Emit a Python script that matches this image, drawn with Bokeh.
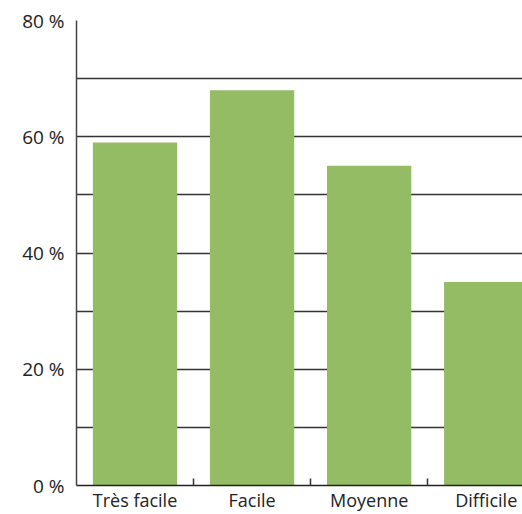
from bokeh.plotting import figure
from bokeh.models import ColumnDataSource, Range1d, FixedTicker
from bokeh.embed import file_html
from bokeh.resources import INLINE

categories = ["Très facile", "Facile", "Moyenne", "Difficile"]
values = [59, 68, 55, 35]
y_ticks = [0, 20, 40, 60, 80]
y_tick_labels = ["0 %", "20 %", "40 %", "60 %", "80 %"]

positions = [i + 0.5 for i in range(len(categories))]
source = ColumnDataSource(dict(x=positions, top=values, cat=categories))

p = figure(width=522, height=514, output_backend="svg", toolbar_location=None,
           x_range=Range1d(0, 3.81), y_range=Range1d(0, 80),
           min_border_left=76, min_border_right=0, min_border_top=20, min_border_bottom=28)
p.outline_line_color = None
p.background_fill_color = "white"
p.border_fill_color = "white"

p.vbar(x="x", top="top", bottom=0, width=0.72, source=source,
       fill_color="#93bc65", line_color=None)

# y axis
p.yaxis.ticker = FixedTicker(ticks=y_ticks, minor_ticks=list(range(0, 81, 10)))
p.yaxis.major_label_overrides = {t: l for t, l in zip(y_ticks, y_tick_labels)}
p.yaxis.major_tick_line_color = None
p.yaxis.minor_tick_line_color = None
p.yaxis.major_tick_out = 0
p.yaxis.major_tick_in = 0
p.yaxis.axis_line_color = "#444444"
p.yaxis.axis_line_width = 1.5
p.yaxis.major_label_text_font = "Open Sans"
p.yaxis.major_label_text_font_size = "19px"
p.yaxis.major_label_text_color = "#222222"
p.yaxis.major_label_standoff = 8

p.ygrid.ticker = FixedTicker(ticks=list(range(0, 81, 10)))
p.ygrid.grid_line_color = "#333333"
p.ygrid.grid_line_width = 1.5
p.xgrid.grid_line_color = None

# x axis
p.xaxis.ticker = FixedTicker(ticks=positions, minor_ticks=[1, 2, 3])
p.xaxis.major_label_overrides = {pos: c for pos, c in zip(positions, categories)}
p.xaxis.major_tick_line_color = None
p.xaxis.major_tick_out = 0
p.xaxis.major_tick_in = 0
p.xaxis.minor_tick_line_color = "#333333"
p.xaxis.minor_tick_line_width = 1.5
p.xaxis.minor_tick_in = 7
p.xaxis.minor_tick_out = 0
p.xaxis.axis_line_color = "#222222"
p.xaxis.axis_line_width = 1.5
p.xaxis.major_label_text_font = "Open Sans"
p.xaxis.major_label_text_font_size = "18px"
p.xaxis.major_label_text_color = "#222222"
p.xaxis.major_label_standoff = 2

open("out.html", "w").write(file_html(p, INLINE))
